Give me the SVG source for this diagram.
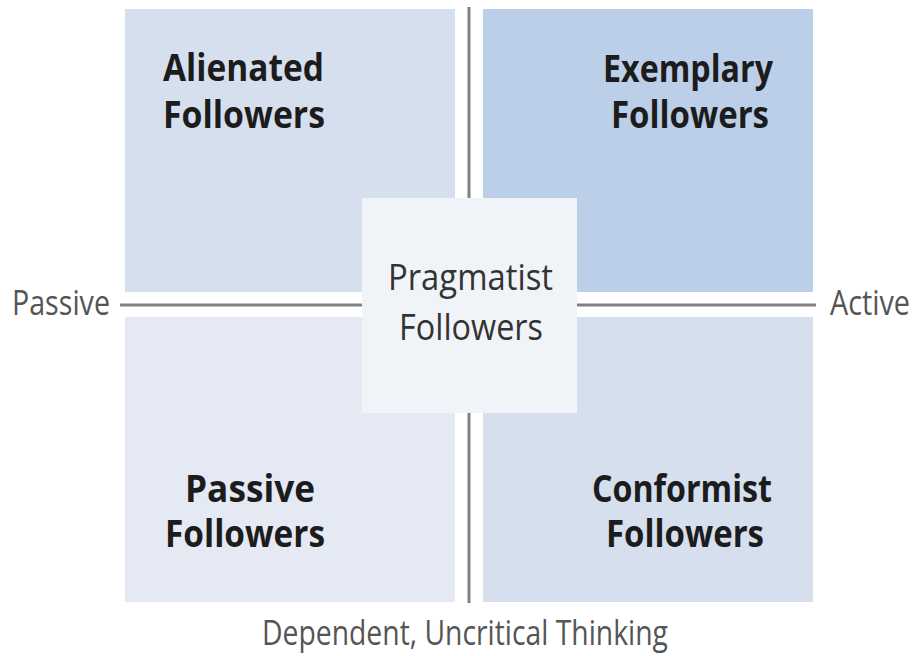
<svg xmlns="http://www.w3.org/2000/svg" width="915" height="656" viewBox="0 0 915 656">
<style>
.q{stroke:none}
.b{font-family:"Open Sans","Noto Sans","DejaVu Sans",sans-serif;font-weight:bold;font-size:37px;fill:#1c1c1c}
.n{font-family:"Open Sans","Noto Sans","DejaVu Sans",sans-serif;font-size:37px;fill:#333}
.ax{font-family:"Open Sans","Noto Sans","DejaVu Sans",sans-serif;font-size:35px;fill:#555}
.ln{stroke:#808080;stroke-width:3;fill:none}
</style>
<rect width="915" height="656" fill="#fff"/>
<g id="axes">
<line class="ln" x1="469" y1="7" x2="469" y2="603"/>
<line class="ln" x1="120" y1="305" x2="816" y2="305"/>
</g>
<g id="alienated">
<rect class="q" x="125" y="9" width="330" height="283" fill="#d5dfee"/>
<text class="b" x="163" y="81" textLength="161" lengthAdjust="spacingAndGlyphs">Alienated</text>
<text class="b" x="163" y="128" textLength="162" lengthAdjust="spacingAndGlyphs">Followers</text>
</g>
<g id="exemplary">
<rect class="q" x="483" y="9" width="330" height="283" fill="#bccfe8"/>
<text class="b" x="603" y="82" textLength="170" lengthAdjust="spacingAndGlyphs">Exemplary</text>
<text class="b" x="611" y="128" textLength="158" lengthAdjust="spacingAndGlyphs">Followers</text>
</g>
<g id="passive">
<rect class="q" x="125" y="317" width="330" height="285" fill="#e5e9f3"/>
<text class="b" x="185" y="502" textLength="130" lengthAdjust="spacingAndGlyphs">Passive</text>
<text class="b" x="165" y="547" textLength="160" lengthAdjust="spacingAndGlyphs">Followers</text>
</g>
<g id="conformist">
<rect class="q" x="483" y="317" width="330" height="285" fill="#d5dfee"/>
<text class="b" x="592" y="502" textLength="180" lengthAdjust="spacingAndGlyphs">Conformist</text>
<text class="b" x="606" y="547" textLength="158" lengthAdjust="spacingAndGlyphs">Followers</text>
</g>
<g id="pragmatist">
<rect class="q" x="362" y="198" width="215" height="215" fill="#f0f3f8"/>
<text class="n" x="388" y="290" textLength="165" lengthAdjust="spacingAndGlyphs">Pragmatist</text>
<text class="n" x="399" y="340" textLength="144" lengthAdjust="spacingAndGlyphs">Followers</text>
</g>
<g id="labels">
<text class="ax" x="12" y="315" textLength="98" lengthAdjust="spacingAndGlyphs">Passive</text>
<text class="ax" x="830" y="315" textLength="80" lengthAdjust="spacingAndGlyphs">Active</text>
<text class="ax" x="262" y="645" textLength="406" lengthAdjust="spacingAndGlyphs">Dependent, Uncritical Thinking</text>
</g>
</svg>
